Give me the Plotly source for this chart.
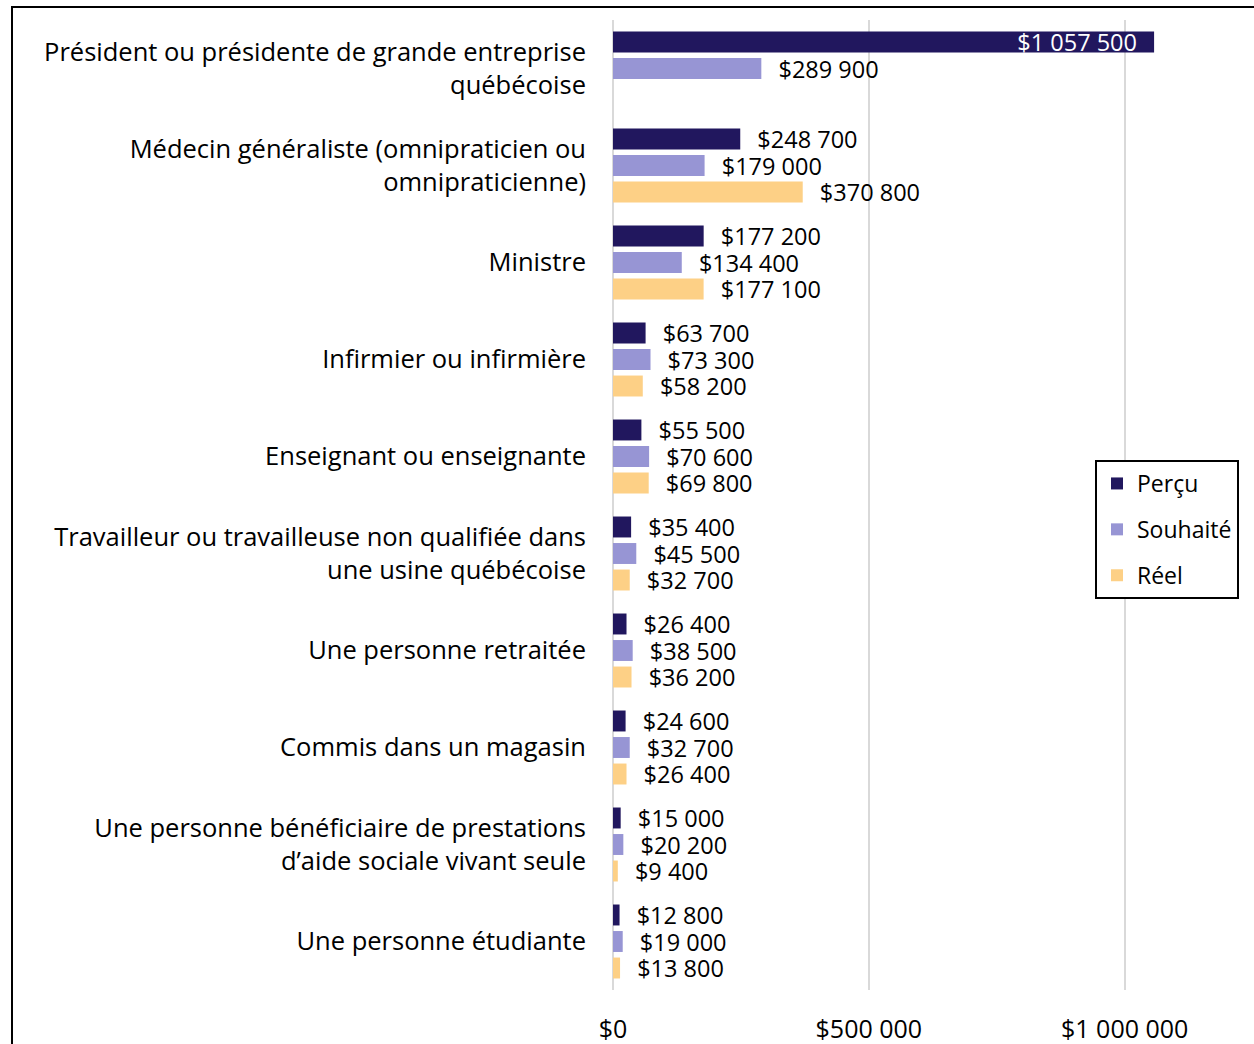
import plotly.graph_objects as go

categories = [
    "Président ou présidente de grande entreprise<br>québécoise",
    "Médecin généraliste (omnipraticien ou<br>omnipraticienne)",
    "Ministre",
    "Infirmier ou infirmière",
    "Enseignant ou enseignante",
    "Travailleur ou travailleuse non qualifiée dans<br>une usine québécoise",
    "Une personne retraitée",
    "Commis dans un magasin",
    "Une personne bénéficiaire de prestations<br>d’aide sociale vivant seule",
    "Une personne étudiante",
]
percu = [1057500, 248700, 177200, 63700, 55500, 35400, 26400, 24600, 15000, 12800]
souhaite = [289900, 179000, 134400, 73300, 70600, 45500, 38500, 32700, 20200, 19000]
reel = [None, 370800, 177100, 58200, 69800, 32700, 36200, 26400, 9400, 13800]
tick_vals = [0, 500000, 1000000]
tick_text = ["$0", "$500 000", "$1 000 000"]

series = [("Perçu", percu, "#21175E"), ("Souhaité", souhaite, "#9795D4"), ("Réel", reel, "#FDD086")]

FONT = "Open Sans"
W, H = 1254, 1044
L, R, T, B = 613, 1227, 20, 990

fig = go.Figure()
for i, (name, vals, col) in enumerate(series):
    pos = []
    tmpl = []
    for v in vals:
        if v is not None and v > 800000:
            pos.append("inside")
            tmpl.append("$%{x:,d}\u2002\u200a")
        else:
            pos.append("outside")
            tmpl.append("\u2002\u200a$%{x:,d}")
    fig.add_trace(go.Bar(
        name=name, y=categories, x=vals, orientation="h",
        marker=dict(color=col, line=dict(width=0)),
        textposition=pos, texttemplate=tmpl, textangle=0,
        insidetextanchor="end", constraintext="none",
        insidetextfont=dict(color="white", size=23.5, family=FONT),
        outsidetextfont=dict(color="black", size=23.5, family=FONT),
        cliponaxis=False, legendgroup=name,
    ))

fig.update_layout(
    width=W, height=H,
    margin=dict(l=L, r=W - R, t=T, b=H - B),
    paper_bgcolor="white", plot_bgcolor="white",
    barmode="group", bargap=0.18, bargroupgap=0.21,
    separators=". ",
    font=dict(family=FONT, size=23, color="black"),
    legend=dict(
        x=(1095 - L) / (R - L), y=(B - 460) / (B - T), xanchor="left", yanchor="top",
        bordercolor="black", borderwidth=2, bgcolor="white",
        font=dict(size=23, family=FONT, color="black"), tracegroupgap=13,
        itemwidth=30,
    ),
    shapes=[dict(type="rect", xref="paper", yref="paper",
                 x0=(12 - L) / (R - L), x1=(1300 - L) / (R - L),
                 y0=(B - 1100) / (B - T), y1=(B - 7) / (B - T),
                 line=dict(color="black", width=2), fillcolor="rgba(0,0,0,0)", layer="below")],
)
fig.update_xaxes(range=[0, 1200000], tickvals=tick_vals, ticktext=tick_text,
                 showgrid=True, gridcolor="#D9D9D9", gridwidth=2, zeroline=True, zerolinecolor="#D9D9D9",
                 zerolinewidth=2, showline=False, ticks="", ticklabelstandoff=22, automargin=False,
                 tickfont=dict(size=25, family=FONT, color="black"))
fig.update_yaxes(autorange="reversed", showgrid=False, showline=False, ticks="", ticklabelstandoff=26,
                 automargin=False, tickfont=dict(size=25.5, family=FONT, color="black"))

fig.write_html("out.html", config={"displayModeBar": False},
               post_script="document.body.style.margin='0';document.body.style.padding='0';")
